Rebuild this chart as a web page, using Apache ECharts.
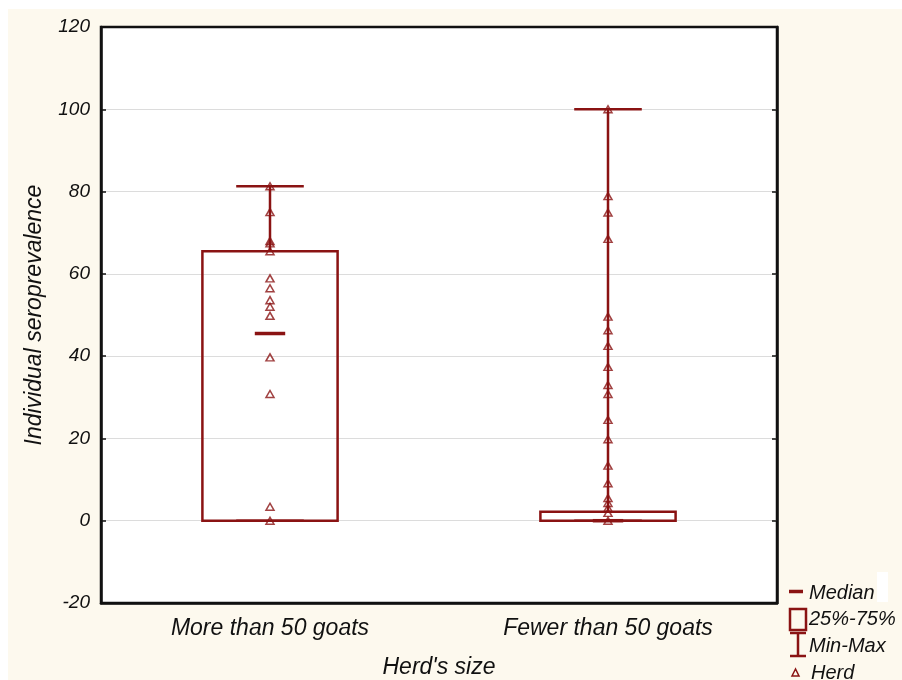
<!DOCTYPE html>
<html><head><meta charset="utf-8">
<script src="https://cdn.jsdelivr.net/npm/echarts@6/dist/echarts.min.js"></script>
<style>html,body{margin:0;padding:0;background:#fff}#c{width:902px;height:680px}</style>
</head><body><div id="c"></div>
<script>
const categories = ['More than 50 goats', 'Fewer than 50 goats'];
const boxQ1 = [0, 0];
const boxQ3 = [65.5, 2.2];
const medians = [45.5, 0];
const minVals = [0, 0];
const maxVals = [81.3, 100];
const herdMore = [81.3, 75, 68, 67.4, 65.5, 58.9, 56.5, 53.6, 52, 49.8, 39.7, 30.8, 3.4, 0];
const herdFewer = [100, 78.9, 74.9, 68.5, 49.6, 46.3, 42.5, 37.4, 33, 30.8, 24.5, 19.8, 13.4, 9.1, 5.5, 4.3, 3.1, 1.9, 0];
const yTicks = [-20, 0, 20, 40, 60, 80, 100, 120];

const RED = '#8a1313';
const FONT = '"Liberation Sans", Arial, sans-serif';

const boxData = categories.map((c, i) => [i, boxQ1[i], boxQ3[i], medians[i], minVals[i], maxVals[i]]);
const herdData = [];
herdMore.forEach(v => herdData.push([0, v]));
herdFewer.forEach(v => herdData.push([1, v]));

const chart = echarts.init(document.getElementById('c'), null, {renderer: 'canvas'});
chart.setOption({
  backgroundColor: '#fdf9ee',
  animation: false,
  grid: {left: 101, top: 27, width: 676, height: 576, outerBoundsMode: 'none', containLabel: false,
    show: true, backgroundColor: '#fff', borderColor: '#111', borderWidth: 2.5},
  xAxis: {
    type: 'category', data: categories, boundaryGap: true,
    axisLine: {onZero: false, lineStyle: {color: '#111', width: 2.5}},
    axisTick: {inside: true, length: 5, alignWithLabel: true, lineStyle: {color: '#111', width: 1.5}},
    axisLabel: {margin: 14, fontSize: 23, fontStyle: 'italic', fontFamily: FONT, color: '#111'},
    name: "Herd's size", nameLocation: 'middle', nameGap: 53,
    nameTextStyle: {fontSize: 23, fontStyle: 'italic', fontFamily: FONT, color: '#111'}
  },
  yAxis: [{
    type: 'value', min: -20, max: 120, interval: 20,
    axisLine: {show: true, onZero: false, lineStyle: {color: '#111', width: 2.5}},
    axisTick: {show: true, inside: true, length: 5, lineStyle: {color: '#111', width: 1.5}},
    axisLabel: {margin: 11, fontSize: 19, fontStyle: 'italic', fontFamily: FONT, color: '#111',
      formatter: v => yTicks.includes(v) ? String(v) : ''},
    splitLine: {show: true, showMinLine: false, showMaxLine: false, lineStyle: {color: '#dcdcdc', width: 1}},
    name: 'Individual seroprevalence', nameLocation: 'middle', nameGap: 55,
    nameTextStyle: {fontSize: 23, fontStyle: 'italic', fontFamily: FONT, color: '#111'}
  }, {
    type: 'value', min: -20, max: 120, interval: 20, position: 'right',
    axisLine: {show: true, onZero: false, lineStyle: {color: '#111', width: 2.5}},
    axisTick: {show: true, inside: true, length: 5, lineStyle: {color: '#111', width: 1.5}},
    axisLabel: {show: false}, splitLine: {show: false}
  }],
  series: [{
    type: 'custom',
    data: boxData,
    z: 2,
    renderItem: function (params, api) {
      const x = api.value(0);
      const band = api.size([1, 0])[0];
      const pQ1 = api.coord([x, api.value(1)]);
      const pQ3 = api.coord([x, api.value(2)]);
      const pMed = api.coord([x, api.value(3)]);
      const pMin = api.coord([x, api.value(4)]);
      const pMax = api.coord([x, api.value(5)]);
      const bw = band * 0.4, cw = band * 0.2, mw = band * 0.045;
      const cx = pQ1[0];
      const children = [
        {type: 'line', shape: {x1: cx, y1: pMax[1], x2: cx, y2: pQ3[1]}, style: {stroke: RED, lineWidth: 2.5}},
        {type: 'line', shape: {x1: cx, y1: pMin[1], x2: cx, y2: pQ1[1]}, style: {stroke: RED, lineWidth: 2.5}},
        {type: 'line', shape: {x1: cx - cw / 2, y1: pMax[1], x2: cx + cw / 2, y2: pMax[1]}, style: {stroke: RED, lineWidth: 2.5}},
        {type: 'line', shape: {x1: cx - cw / 2, y1: pMin[1], x2: cx + cw / 2, y2: pMin[1]}, style: {stroke: RED, lineWidth: 2.5}},
        {type: 'rect', shape: {x: cx - bw / 2, y: pQ3[1], width: bw, height: pQ1[1] - pQ3[1]}, style: {fill: 'none', stroke: RED, lineWidth: 2.5}},
        {type: 'line', shape: {x1: cx - mw, y1: pMed[1], x2: cx + mw, y2: pMed[1]}, style: {stroke: RED, lineWidth: 3.5}}
      ];
      return {type: 'group', children: children};
    }
  }, {
    type: 'scatter',
    data: herdData,
    symbol: 'triangle',
    symbolSize: [8, 7],
    z: 3,
    itemStyle: {color: 'rgba(0,0,0,0)', borderColor: RED, borderWidth: 1.5}
  }],
  graphic: [
    {type: 'rect', shape: {x: 0, y: 0, width: 902, height: 9}, style: {fill: '#fff'}, silent: true},
    {type: 'rect', shape: {x: 0, y: 0, width: 8, height: 680}, style: {fill: '#fff'}, silent: true},
    {type: 'rect', shape: {x: 877, y: 572, width: 11, height: 30}, style: {fill: '#fff'}, silent: true},
    {type: 'line', shape: {x1: 789, y1: 591.5, x2: 803, y2: 591.5}, style: {stroke: RED, lineWidth: 3.5}},
    {type: 'text', x: 809, y: 593, style: {text: 'Median', font: 'italic 20px ' + FONT, fill: '#111', verticalAlign: 'middle'}},
    {type: 'rect', shape: {x: 790, y: 609, width: 16, height: 21}, style: {fill: 'none', stroke: RED, lineWidth: 2.5}},
    {type: 'text', x: 809, y: 619, style: {text: '25%-75%', font: 'italic 20px ' + FONT, fill: '#111', verticalAlign: 'middle'}},
    {type: 'line', shape: {x1: 798, y1: 633, x2: 798, y2: 656}, style: {stroke: RED, lineWidth: 2.5}},
    {type: 'line', shape: {x1: 790, y1: 633, x2: 806, y2: 633}, style: {stroke: RED, lineWidth: 2.5}},
    {type: 'line', shape: {x1: 790, y1: 656, x2: 806, y2: 656}, style: {stroke: RED, lineWidth: 2.5}},
    {type: 'text', x: 809, y: 646, style: {text: 'Min-Max', font: 'italic 20px ' + FONT, fill: '#111', verticalAlign: 'middle'}},
    {type: 'polygon', shape: {points: [[795.5, 669], [792, 676], [799, 676]]}, style: {fill: 'none', stroke: RED, lineWidth: 1.5}},
    {type: 'text', x: 811, y: 673, style: {text: 'Herd', font: 'italic 20px ' + FONT, fill: '#111', verticalAlign: 'middle'}}
  ]
});
</script></body></html>
